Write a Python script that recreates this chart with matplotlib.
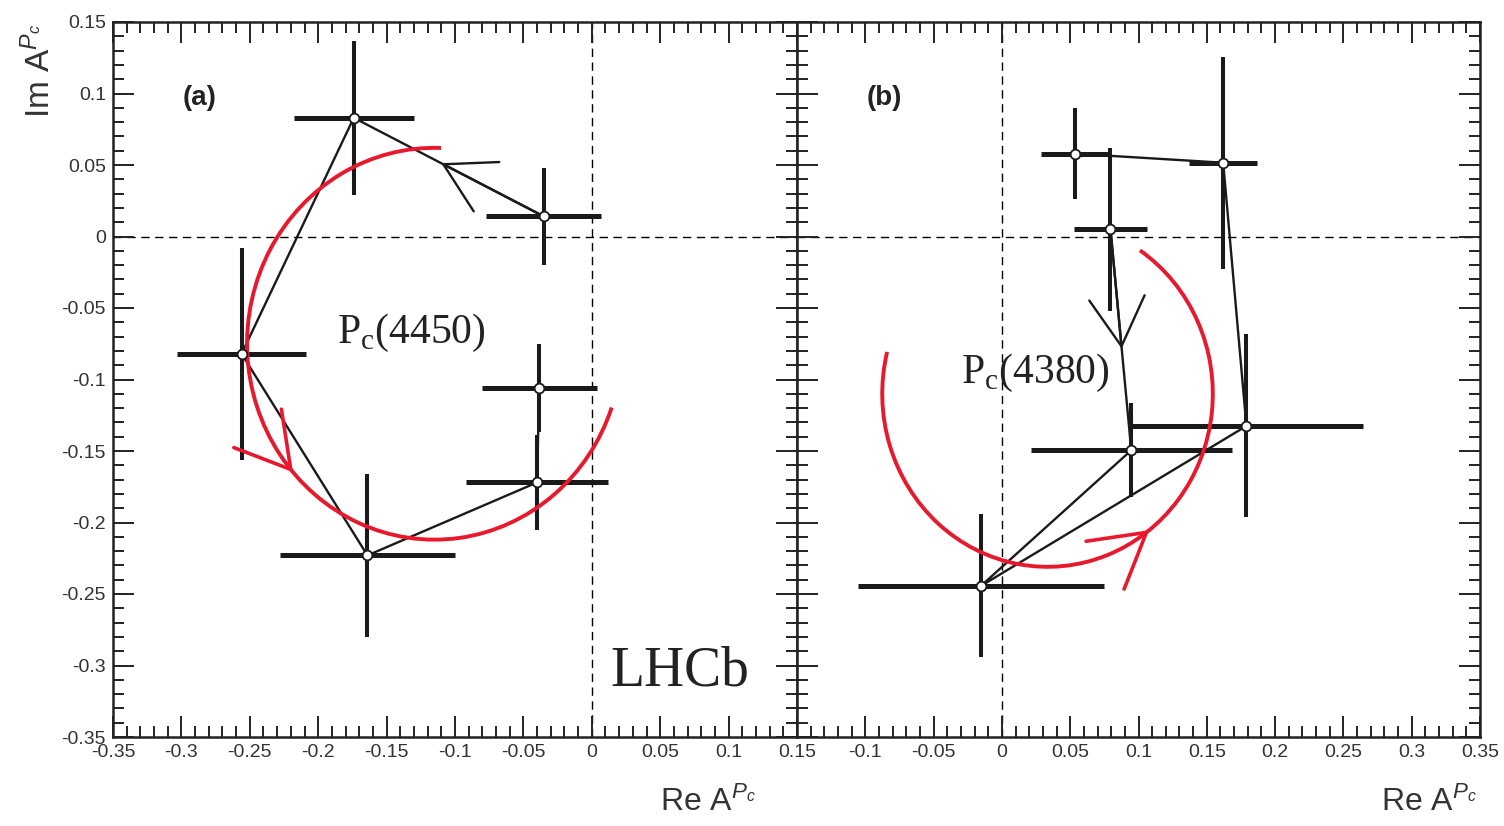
import numpy as np
import matplotlib
matplotlib.use('Agg')
import matplotlib.pyplot as plt
from matplotlib.patches import Arc
from matplotlib.ticker import MultipleLocator, FuncFormatter

plt.rcParams['font.family'] = ['Liberation Sans', 'DejaVu Sans']
plt.rcParams['mathtext.fontset'] = 'custom'
plt.rcParams['mathtext.rm'] = 'Liberation Serif'
plt.rcParams['mathtext.it'] = 'Liberation Sans:italic'
plt.rcParams['mathtext.sf'] = 'Liberation Sans'

# (a) Pc(4450): points listed in the order they are joined
re_a = [-0.035, -0.174, -0.256, -0.164, -0.040, -0.0385]
im_a = [0.014, 0.083, -0.082, -0.223, -0.172, -0.106]
re_err_a = [0.042, 0.044, 0.047, 0.064, 0.052, 0.042]
im_err_a = [0.034, 0.054, 0.074, 0.057, 0.033, 0.031]

# (b) Pc(4380)
re_b = [0.0795, 0.0947, -0.0154, 0.179, 0.162, 0.0536]
im_b = [0.005, -0.1495, -0.2444, -0.1325, 0.0516, 0.0579]
re_err_b = [0.0265, 0.0735, 0.090, 0.085, 0.025, 0.025]
im_err_b = [0.057, 0.033, 0.050, 0.064, 0.074, 0.032]

# Breit-Wigner circles: centre, radius, arc start / end angle, arrow angle (deg)
bw_centre_a = (-0.115, -0.075)
bw_radius_a = 0.137
bw_angles_a = (88, 341, 221)
bw_centre_b = (0.0334, -0.110)
bw_radius_b = 0.121
bw_angles_b = (166, 416, 308)

# where the black direction arrow sits on the first segment
arrow_frac = 0.54

red = '#e8192c'


def fmt(v, pos):
    if abs(v) < 1e-9:
        return '0'
    return f'{round(v, 3):g}'


def draw_panel(ax, re, im, re_err, im_err, centre, radius, angles):
    re = np.array(re)
    im = np.array(im)
    re_err = np.array(re_err)
    im_err = np.array(im_err)

    ax.axhline(0, color='black', lw=1.0, ls=(0, (6, 4)), zorder=1)
    ax.axvline(0, color='black', lw=1.0, ls=(0, (6, 4)), zorder=1)

    # error bars
    ax.hlines(im, re - re_err, re + re_err, color='#1a1a1a', lw=3.6, zorder=2)
    ax.vlines(re, im - im_err, im + im_err, color='#1a1a1a', lw=2.9, zorder=2)

    # joining line + direction arrow
    ax.plot(re, im, color='#1a1a1a', lw=1.7, zorder=3)
    p0 = np.array([re[0], im[0]])
    p1 = np.array([re[1], im[1]])
    tip = p0 + arrow_frac * (p1 - p0)
    ax.annotate('', xy=tip, xytext=p0,
                arrowprops=dict(arrowstyle='->,head_length=3.5,head_width=2.0',
                                color='#1a1a1a', lw=1.7, shrinkA=0, shrinkB=0,
                                mutation_scale=10), zorder=3)

    # BW circle
    t1, t2, ta = angles
    arc = Arc(centre, 2 * radius, 2 * radius, theta1=t1, theta2=t2,
              color=red, lw=2.8, zorder=4)
    ax.add_patch(arc)
    ta = np.radians(ta)
    tip = (centre[0] + radius * np.cos(ta), centre[1] + radius * np.sin(ta))
    back = (centre[0] + radius * np.cos(ta - 0.03), centre[1] + radius * np.sin(ta - 0.03))
    ax.annotate('', xy=tip, xytext=back,
                arrowprops=dict(arrowstyle='->,head_length=3.8,head_width=2.2',
                                color=red, lw=2.6, shrinkA=0, shrinkB=0,
                                mutation_scale=10), zorder=4)

    ax.plot(re, im, ls='none', marker='o', ms=7, mfc='white', mec='#1a1a1a',
            mew=1.3, zorder=5)

    ax.set_ylim(-0.35, 0.15)
    ax.xaxis.set_major_locator(MultipleLocator(0.05))
    ax.xaxis.set_minor_locator(MultipleLocator(0.01))
    ax.yaxis.set_major_locator(MultipleLocator(0.05))
    ax.yaxis.set_minor_locator(MultipleLocator(0.01))
    ax.xaxis.set_major_formatter(FuncFormatter(fmt))
    ax.yaxis.set_major_formatter(FuncFormatter(fmt))
    ax.tick_params(which='both', direction='in', top=True, right=True,
                   width=1.4, colors='#222222', labelcolor='#333333', labelsize=14)
    ax.tick_params(which='major', length=15, pad=5)
    ax.tick_params(which='minor', length=8)
    for s in ax.spines.values():
        s.set_linewidth(1.8)
        s.set_color('#222222')


fig = plt.figure(figsize=(15.04, 8.26), dpi=100)
ax1 = fig.add_axes([113 / 1504, 89 / 826, 684 / 1504, 715 / 826])
ax2 = fig.add_axes([797 / 1504, 89 / 826, 683 / 1504, 715 / 826])

draw_panel(ax1, re_a, im_a, re_err_a, im_err_a, bw_centre_a, bw_radius_a, bw_angles_a)
draw_panel(ax2, re_b, im_b, re_err_b, im_err_b, bw_centre_b, bw_radius_b, bw_angles_b)

ax1.set_xlim(-0.35, 0.15)
ax2.set_xlim(-0.15, 0.35)
ax2.tick_params(labelleft=False)
ax2.xaxis.set_major_formatter(FuncFormatter(lambda v, p: '' if v < -0.149 else fmt(v, p)))

ax1.set_ylabel(r'Im A$^{P_c}$', fontsize=24, color='#333333', ha='right', va='center')
ax1.yaxis.set_label_coords(-0.107, 0.998)
ax1.set_xlabel(r'Re A$^{P_c}$', fontsize=23, color='#333333', ha='right', va='center')
ax1.xaxis.set_label_coords(0.94, -0.092)
ax2.set_xlabel(r'Re A$^{P_c}$', fontsize=23, color='#333333', ha='right', va='center')
ax2.xaxis.set_label_coords(0.996, -0.092)

ax1.text(-0.299, 0.097, '(a)', fontsize=20, fontweight='bold', va='center', color='#222222')
ax2.text(-0.099, 0.097, '(b)', fontsize=20, fontweight='bold', va='center', color='#222222')
ax1.text(-0.186, -0.0675, r'P$_{\mathrm{c}}$(4450)', fontsize=30,
         family='Liberation Serif', va='center', color='#222222')
ax2.text(-0.0296, -0.0955, r'P$_{\mathrm{c}}$(4380)', fontsize=30,
         family='Liberation Serif', va='center', color='#222222')
ax1.text(0.0133, -0.304, 'LHCb', fontsize=40, family='Liberation Serif',
         va='center', color='#222222')

fig.savefig('out.png', dpi=100)
